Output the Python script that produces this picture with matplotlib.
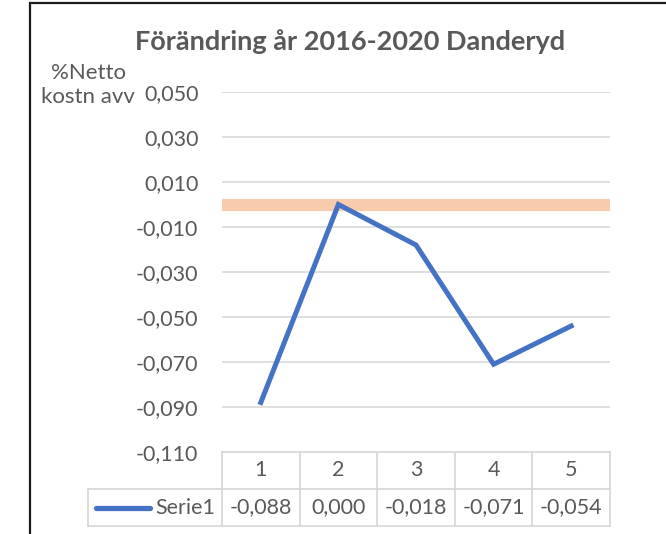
import matplotlib
matplotlib.use("Agg")
import matplotlib.pyplot as plt
from matplotlib.patches import Rectangle
from matplotlib.lines import Line2D

plt.rcParams['font.family'] = ['Lato', 'DejaVu Sans']

title = "Förändring år 2016-2020 Danderyd"
ylabel = "%Netto\nkostn avv"
categories = ["1", "2", "3", "4", "5"]
series_name = "Serie1"
values = [-0.088, 0.000, -0.018, -0.071, -0.054]
target = 0.0
yticks = [-0.110, -0.090, -0.070, -0.050, -0.030, -0.010, 0.010, 0.030, 0.050]

W, H = 666, 534
fig = plt.figure(figsize=(W / 100, H / 100), dpi=100)
txt = '#595959'
grid = '#D9D9D9'
blue = '#4472C4'
fs = 15.5

# outer chart frame (extends beyond the picture right and bottom)
fig.patches.append(Rectangle((30 / W, -0.05), 1.2, 1 - 3 / H + 0.05, transform=fig.transFigure,
                             fill=False, edgecolor='#1a1a1a', linewidth=1.6))

L, R, T, B = 222, 610, 92, 452
ax = fig.add_axes([L / W, 1 - B / H, (R - L) / W, (B - T) / H])
ax.set_xlim(0.5, len(categories) + 0.5)
ax.set_ylim(yticks[0], yticks[-1])
ax.set_yticks(yticks)
ax.set_yticklabels([f"{v:.3f}".replace('.', ',') for v in yticks])
ax.tick_params(axis='y', length=0, pad=17, labelsize=fs, labelcolor=txt)
ax.set_xticks([])
for s in ax.spines.values():
    s.set_visible(False)
ax.grid(axis='y', color=grid, linewidth=1.2)
ax.set_axisbelow(True)

ax.axhline(target, color='#F8CBAD', linewidth=8.8, zorder=2)
x = list(range(1, len(categories) + 1))
ax.plot(x, values, color=blue, linewidth=3.6, solid_joinstyle='miter', zorder=3)

fig.text(350 / W, 1 - 42 / H, title, ha='center', va='center', fontsize=19.5,
         fontweight='bold', color=txt)
fig.text(88 / W, 1 - 85 / H, ylabel, ha='center', va='center', fontsize=16,
         color=txt, linespacing=1.3)

# data table below the plot
tr = ax.get_xaxis_transform()
h1 = -37 / (B - T)
h2 = -74 / (B - T)
unit = (R - L) / len(categories)
left_x = 0.5 + (88 - L) / unit
lkw = dict(color=grid, linewidth=1.3, transform=tr, clip_on=False)
ax.add_line(Line2D([0.5, len(categories) + 0.5], [0, 0], **lkw))
ax.add_line(Line2D([left_x, len(categories) + 0.5], [h1, h1], **lkw))
ax.add_line(Line2D([left_x, len(categories) + 0.5], [h2, h2], **lkw))
ax.add_line(Line2D([left_x, left_x], [h1, h2], **lkw))
for i in range(len(categories) + 1):
    ax.add_line(Line2D([0.5 + i, 0.5 + i], [0, h2], **lkw))
for xi, c, v in zip(x, categories, values):
    ax.text(xi, h1 / 2, c, transform=tr, ha='center', va='center', fontsize=fs, color=txt)
    ax.text(xi, (h1 + h2) / 2, f"{v:.3f}".replace('.', ','), transform=tr,
            ha='center', va='center', fontsize=fs, color=txt)
ax.add_line(Line2D([0.5 + (96 - L) / unit, 0.5 + (150 - L) / unit],
                   [(h1 + h2) / 2] * 2, color=blue, linewidth=3.8,
                   solid_capstyle='round', transform=tr, clip_on=False))
ax.text(0.5 + (215 - L) / unit, (h1 + h2) / 2, series_name, transform=tr,
        ha='right', va='center', fontsize=fs, color=txt)

fig.savefig("out.png", dpi=100)
